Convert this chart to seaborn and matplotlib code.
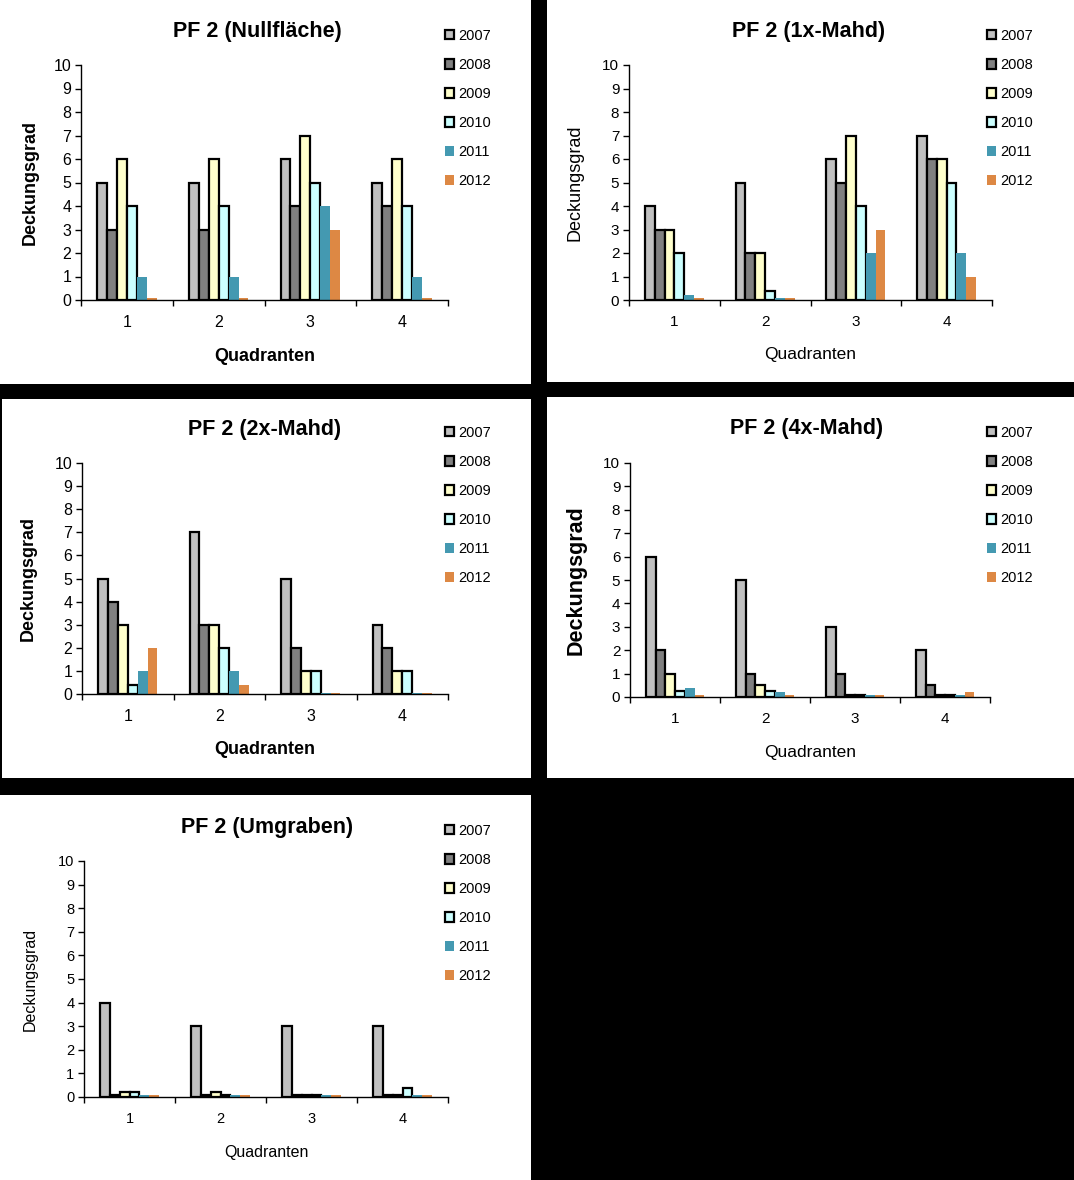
import numpy as np
import pandas as pd
import seaborn as sns
import matplotlib.pyplot as plt
from matplotlib.patches import Rectangle, Patch

# Daten: Deckungsgrad je Quadrant (1-4) und Jahr
jahre = ["2007", "2008", "2009", "2010", "2011", "2012"]
quadranten = ["1", "2", "3", "4"]
farben = ["#C0C0C0", "#808080", "#FFFFCC", "#CCFFFF", "#4499B1", "#DD8844"]

titel = ["PF 2 (Nullfläche)", "PF 2 (1x-Mahd)", "PF 2 (2x-Mahd)", "PF 2 (4x-Mahd)", "PF 2 (Umgraben)"]

# Werte pro Jahr (Zeilen) x Quadrant (Spalten)
nullflaeche = [[5, 5, 6, 5],
               [3, 3, 4, 4],
               [6, 6, 7, 6],
               [4, 4, 5, 4],
               [1, 1, 4, 1],
               [0.1, 0.1, 3, 0.1]]
mahd_1x = [[4, 5, 6, 7],
           [3, 2, 5, 6],
           [3, 2, 7, 6],
           [2, 0.4, 4, 5],
           [0.2, 0.1, 2, 2],
           [0.1, 0.1, 3, 1]]
mahd_2x = [[5, 7, 5, 3],
           [4, 3, 2, 2],
           [3, 3, 1, 1],
           [0.4, 2, 1, 1],
           [1, 1, 0.03, 0.03],
           [2, 0.4, 0.03, 0.03]]
mahd_4x = [[6, 5, 3, 2],
           [2, 1, 1, 0.5],
           [1, 0.5, 0.1, 0.1],
           [0.25, 0.25, 0.1, 0.1],
           [0.4, 0.2, 0.1, 0.1],
           [0.1, 0.1, 0.1, 0.2]]
umgraben = [[4, 3, 3, 3],
            [0.1, 0.1, 0.1, 0.1],
            [0.2, 0.2, 0.1, 0.1],
            [0.2, 0.1, 0.1, 0.4],
            [0.1, 0.1, 0.1, 0.1],
            [0.1, 0.1, 0.1, 0.1]]

W, H = 1074, 1180
fig = plt.figure(figsize=(W / 100, H / 100), dpi=100, facecolor="black")
plt.rcParams["font.family"] = ["Liberation Sans", "DejaVu Sans"]


def fx(px):
    return px / W


def fy(py):
    return 1 - py / H


# Layout in Pixeln: Panel, Achsen, Titel, Legende, y-Label x, x-Label y
panels = [
    dict(werte=nullflaeche, box=(0, 0, 531, 384), ax=(81, 65, 448, 300), tpos=(257, 32),
         leg=(445, 29), ylx=30, xly=357, tick=11.5, xl=(13, "bold"), yl=(13, "bold")),
    dict(werte=mahd_1x, box=(547, 0, 1074, 382), ax=(629, 65, 992, 300), tpos=(809, 32),
         leg=(987, 29), ylx=575, xly=354, tick=11, xl=(12.5, "normal"), yl=(13, "normal")),
    dict(werte=mahd_2x, box=(2, 399, 531, 778), ax=(82, 463, 448, 694), tpos=(265, 430),
         leg=(445, 426), ylx=28, xly=750, tick=11.5, xl=(13, "bold"), yl=(13, "bold")),
    dict(werte=mahd_4x, box=(547, 397, 1074, 778), ax=(630, 463, 990, 697), tpos=(807, 428),
         leg=(987, 426), ylx=576, xly=752, tick=11, xl=(12.5, "normal"), yl=(15.5, "bold")),
    dict(werte=umgraben, box=(0, 795, 531, 1180), ax=(84, 861, 448, 1097), tpos=(267, 827),
         leg=(445, 824), ylx=30, xly=1152, tick=10.5, xl=(11.5, "normal"), yl=(11.5, "normal")),
]

for name, p in zip(titel, panels):
    x0, y0, x1, y1 = p["box"]
    fig.patches.append(Rectangle((fx(x0), fy(y1)), fx(x1 - x0), (y1 - y0) / H,
                                 transform=fig.transFigure, facecolor="white",
                                 edgecolor="none", zorder=-10))
    l, t, r, b = p["ax"]
    ax = fig.add_axes([fx(l), fy(b), fx(r - l), (b - t) / H])
    ax.set_zorder(1)
    ax.set_facecolor("none")

    df = pd.DataFrame([(q, j, p["werte"][i][k]) for i, j in enumerate(jahre)
                       for k, q in enumerate(quadranten)],
                      columns=["Quadrant", "Jahr", "Wert"])
    sns.barplot(data=df, x="Quadrant", y="Wert", hue="Jahr", order=quadranten,
                hue_order=jahre, palette=farben, saturation=1, width=0.65,
                ax=ax, legend=False, errorbar=None)
    for i, cont in enumerate(ax.containers):
        for bar in cont:
            if i < 4:
                bar.set_edgecolor("black")
                bar.set_linewidth(1.6)
            else:
                bar.set_edgecolor("none")
                bar.set_linewidth(0)

    ax.set_xlim(-0.5, 3.5)
    ax.set_ylim(0, 10)
    ax.set_yticks(range(0, 11))
    ax.set_xticks(range(4))
    ax.set_xticklabels(quadranten)
    ax.set_xticks(np.arange(-0.5, 4, 1), minor=True)
    ax.tick_params(axis="x", which="major", length=0, pad=11, labelsize=p["tick"])
    ax.tick_params(axis="x", which="minor", length=4, width=1, direction="out")
    ax.tick_params(axis="y", length=4, width=1, direction="out", labelsize=p["tick"], pad=3)
    for s in ["top", "right"]:
        ax.spines[s].set_visible(False)
    for s in ["left", "bottom"]:
        ax.spines[s].set_linewidth(1)
        ax.spines[s].set_color("black")

    ax.set_xlabel("")
    ax.set_ylabel("")
    fig.text(fx((l + r) / 2), fy(p["xly"]), "Quadranten", ha="center", va="center",
             fontsize=p["xl"][0], fontweight=p["xl"][1])
    fig.text(fx(p["ylx"]), fy((t + b) / 2), "Deckungsgrad", ha="center", va="center",
             rotation=90, fontsize=p["yl"][0], fontweight=p["yl"][1])
    fig.text(fx(p["tpos"][0]), fy(p["tpos"][1]), name, ha="center", va="center",
             fontsize=15.5, fontweight="bold")

    handles = [Patch(facecolor=c, edgecolor="black" if i < 4 else c,
                     linewidth=1.6 if i < 4 else 0) for i, c in enumerate(farben)]
    ax.legend(handles, jahre, loc="upper left",
              bbox_to_anchor=(fx(p["leg"][0]), fy(p["leg"][1])),
              bbox_transform=fig.transFigure, frameon=False, fontsize=10.5,
              handlelength=0.6, handleheight=0.6, handletextpad=0.3,
              labelspacing=1.03, borderaxespad=0, borderpad=0)

fig.savefig("out.png", dpi=100, facecolor="black")
